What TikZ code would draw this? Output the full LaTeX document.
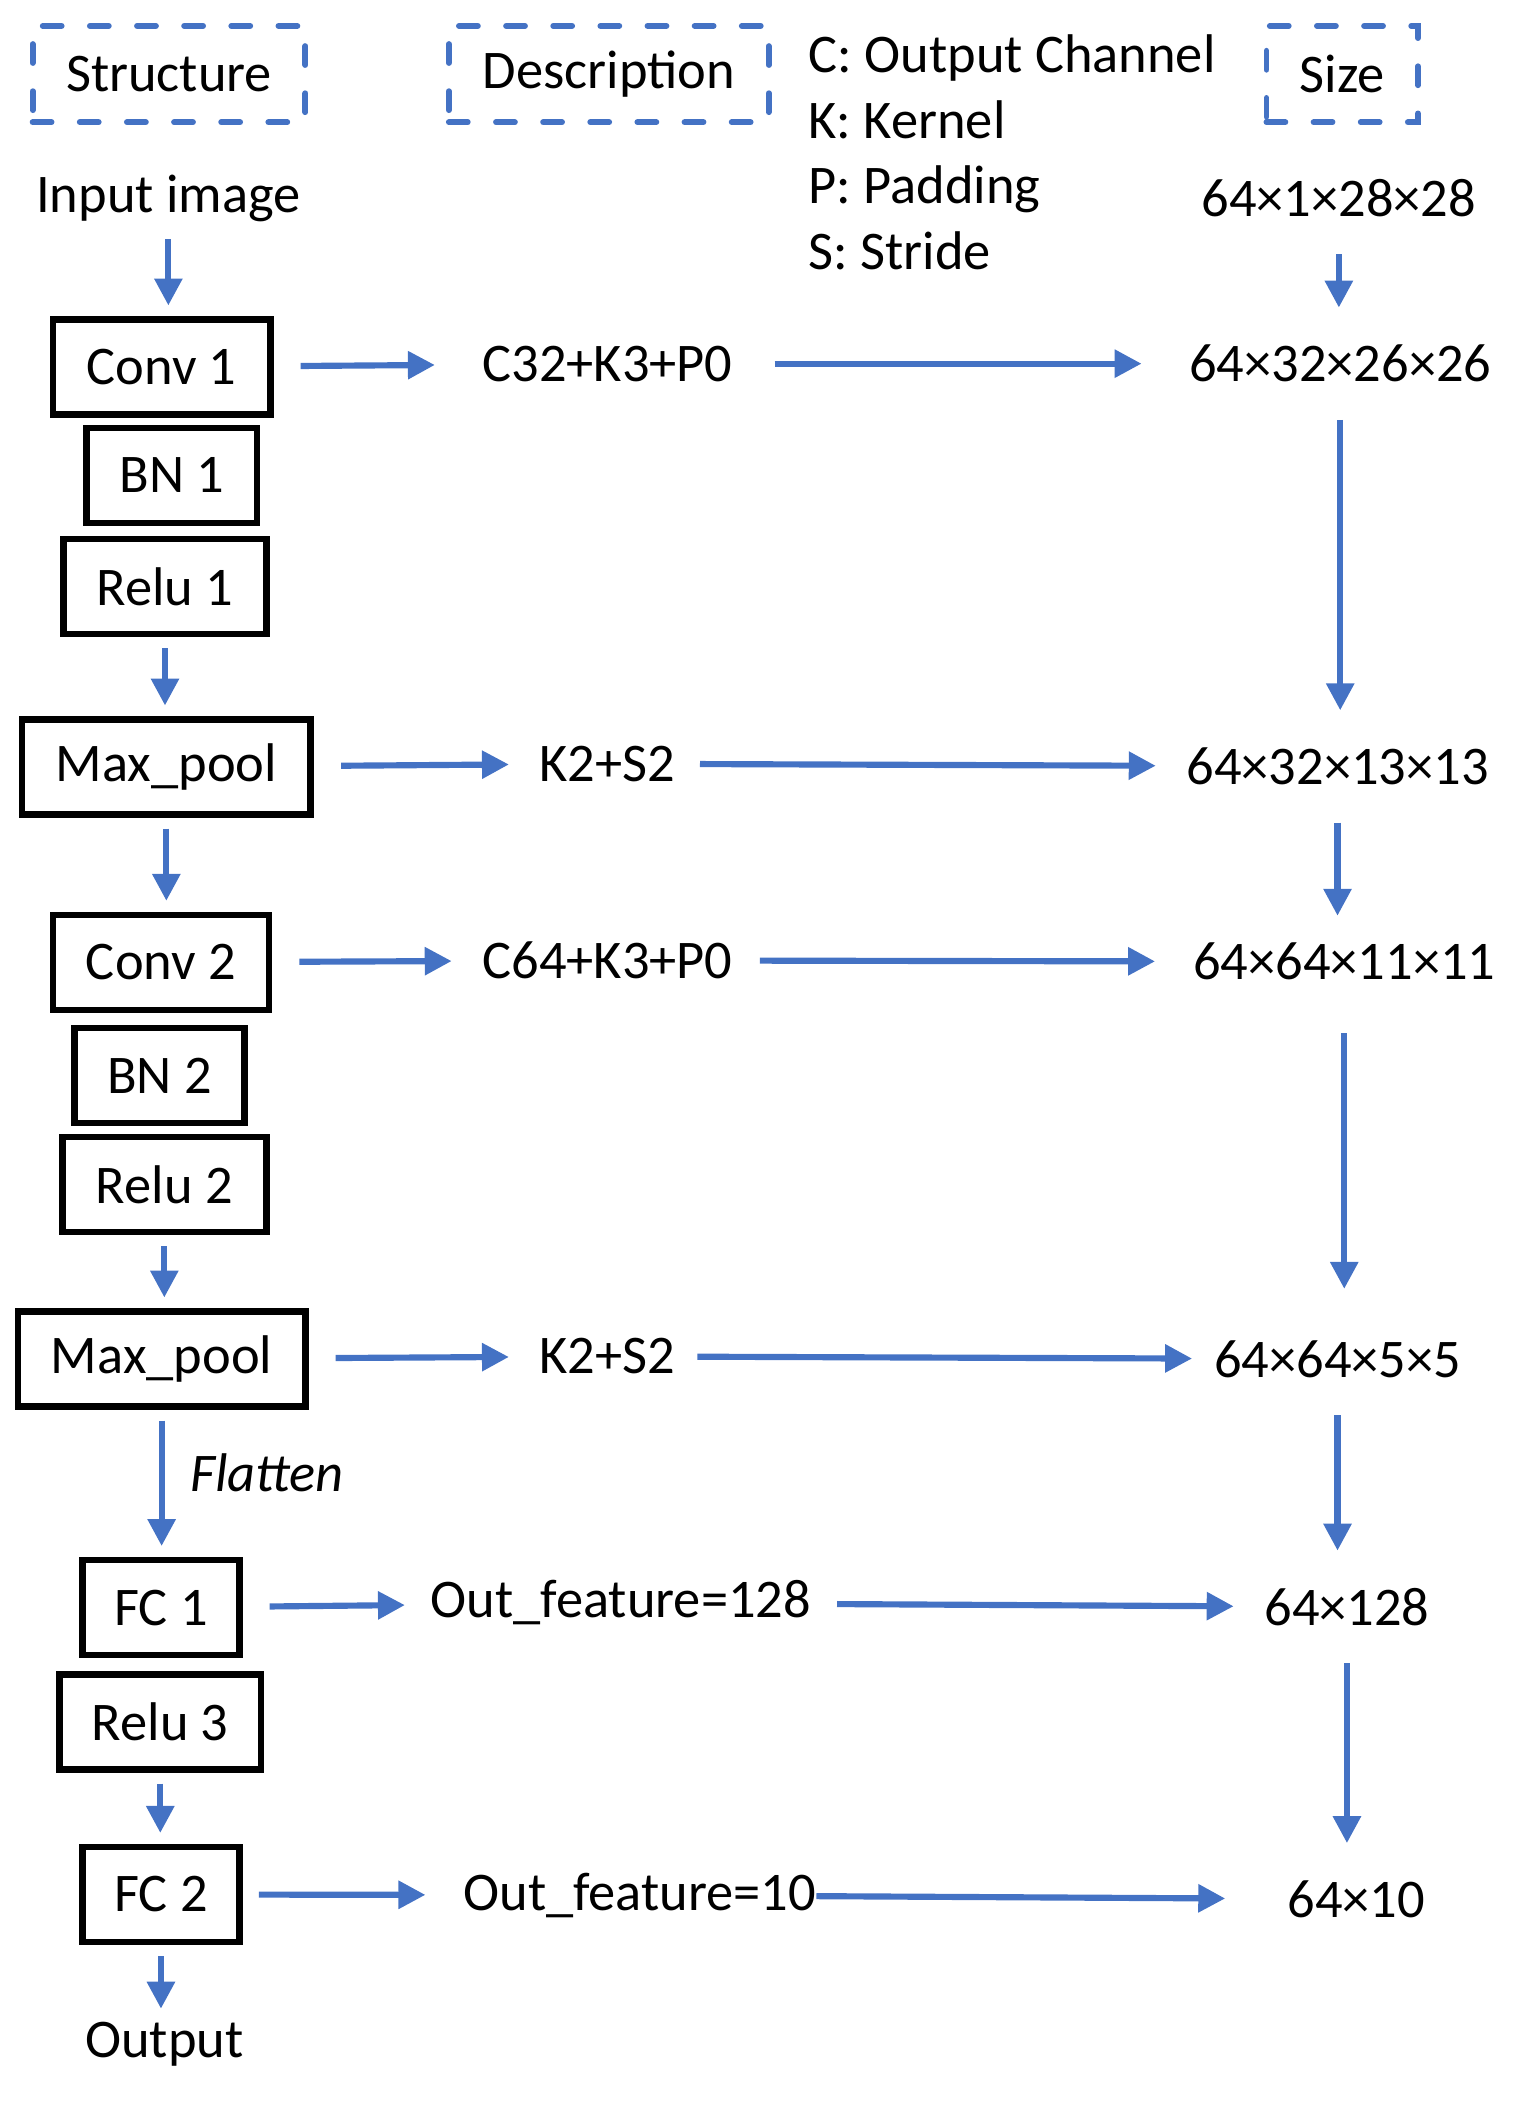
\documentclass[tikz,border=0pt]{standalone}
\usepackage{fontspec}
\setmainfont{Carlito}
\usepackage{tikz}
\usetikzlibrary{positioning, arrows.meta}
\definecolor{OffBlue}{RGB}{68,114,196}

\begin{document}
\begin{tikzpicture}[
      layer/.style={rectangle, draw=black, line width=2.8pt,
                    minimum height=1.41cm, inner sep=0pt,
                    font=\fontsize{23}{28}\selectfont},
      hdr/.style={rectangle, draw=OffBlue, line width=2.5pt, line cap=round,
                  dash pattern=on 0.28cm off 0.42cm,
                  minimum height=1.43cm, font=\fontsize{23}{28}\selectfont},
      lbl/.style={inner sep=0pt, text=black, font=\fontsize{23}{28}\selectfont},
      arr/.style={-{Triangle[length=0.4cm, width=0.4cm]}, OffBlue,
                  line width=2.6pt, shorten <=0.4cm, shorten >=0.45cm},
      varr/.style={arr, shorten <=0.16cm, shorten >=0.16cm},
      sarr/.style={arr, shorten <=0.55cm, shorten >=0.55cm}
    ]
    \useasboundingbox (0,0) rectangle (22.86,-31.36);

    % headers and legend
    \node[hdr, minimum width=4.05cm] (hstruct) at (2.51,-1.10) {Structure};
    \node[hdr, minimum width=4.75cm] (hdesc)   at (9.04,-1.10) {Description};
    \node[hdr, minimum width=2.25cm] (hsize)   at (19.93,-1.10) {Size};
    \node[lbl, anchor=west, align=left, font=\fontsize{23}{27.7}\selectfont]
          (legend) at (12.0,-2.26) {C: Output Channel\\K: Kernel\\P: Padding\\S: Stride};

    % structure column
    \node[lbl] (in) at (2.50,-2.94) {Input image};
    \node[layer, minimum width=3.23cm] (conv1) at (2.40,-5.45)  {Conv 1};
    \node[layer, minimum width=2.53cm] (bn1)   at (2.55,-7.06)  {BN 1};
    \node[layer, minimum width=3.01cm] (relu1) at (2.45,-8.71)  {Relu 1};
    \node[layer, minimum width=4.29cm] (pool1) at (2.47,-11.39) {Max\_pool};
    \node[layer, minimum width=3.21cm] (conv2) at (2.39,-14.29) {Conv 2};
    \node[layer, minimum width=2.53cm] (bn2)   at (2.37,-15.97) {BN 2};
    \node[layer, minimum width=3.03cm] (relu2) at (2.44,-17.59) {Relu 2};
    \node[layer, minimum width=4.27cm] (pool2) at (2.40,-20.18) {Max\_pool};
    \node[layer, minimum width=2.33cm] (fc1)   at (2.39,-23.87) {FC 1};
    \node[layer, minimum width=2.99cm] (relu3) at (2.38,-25.57) {Relu 3};
    \node[layer, minimum width=2.33cm] (fc2)   at (2.39,-28.13) {FC 2};
    \node[lbl] (out) at (2.44,-30.36) {Output};

    % description column
    \node[lbl] (d1) at (9.02,-5.40)  {C32+K3+P0};
    \node[lbl] (d2) at (9.02,-11.34) {K2+S2};
    \node[lbl] (d3) at (9.02,-14.26) {C64+K3+P0};
    \node[lbl] (d4) at (9.02,-20.14) {K2+S2};
    \node[lbl] (d5) at (9.22,-23.80) {Out\_feature=128};
    \node[lbl] (d6) at (9.50,-28.14) {Out\_feature=10};

    % size column
    \node[lbl] (s0) at (19.88,-2.94)  {64×1×28×28};
    \node[lbl] (s1) at (19.90,-5.40)  {64×32×26×26};
    \node[lbl] (s2) at (19.86,-11.38) {64×32×13×13};
    \node[lbl] (s3) at (19.96,-14.28) {64×64×11×11};
    \node[lbl] (s4) at (19.86,-20.18) {64×64×5×5};
    \node[lbl] (s5) at (20.00,-23.86) {64×128};
    \node[lbl] (s6) at (20.14,-28.20) {64×10};

    % structure arrows
    \draw[varr, shorten <=0.26cm] (in) -- (in |- conv1.north);
    \draw[varr] (relu1) -- (relu1 |- pool1.north);
    \draw[varr] (pool1) -- (pool1 |- conv2.north);
    \draw[varr] (relu2) -- (relu2 |- pool2.north);
    \draw[varr] (pool2) -- node[lbl, right, xshift=0.38cm, pos=0.43,
          font=\fontsize{23}{28}\selectfont\itshape] (flat) {Flatten} (pool2 |- fc1.north);
    \draw[varr] (relu3) -- (relu3 |- fc2.north);
    \draw[varr, shorten >=0.2cm] (fc2) -- (fc2 |- out.north);

    % structure -> description
    \draw[arr, shorten >=0.7cm]  (conv1) -- (d1);
    \draw[arr]                   (pool1) -- (d2);
    \draw[arr]                   (conv2) -- (d3);
    \draw[arr]                   (pool2) -- (d4);
    \draw[arr, shorten >=0.38cm] (fc1) -- (d5);
    \draw[arr, shorten <=0.24cm, shorten >=0.56cm] (fc2) -- (d6);

    % description -> size
    \draw[arr, shorten <=0.62cm, shorten >=0.7cm] (d1) -- (s1);
    \draw[arr, shorten <=0.36cm] (d2) -- (s2);
    \draw[arr, shorten >=0.56cm] (d3) -- (s3);
    \draw[arr, shorten <=0.32cm, shorten >=0.32cm] (d4) -- (s4);
    \draw[arr, shorten <=0.38cm] (d5) -- (s5);
    \draw[arr, shorten <=0cm, shorten >=0.92cm] (d6) -- (s6);

    % size arrows
    \draw[sarr] (s0) -- (s0 |- s1.north);
    \draw[sarr] (s1) -- (s1 |- s2.north);
    \draw[sarr, shorten >=0.4cm] (s2) -- (s2 |- s3.north);
    \draw[sarr, shorten <=0.78cm, shorten >=0.76cm] (s3) -- (s3 |- s4.north);
    \draw[sarr] (s4) -- (s4 |- s5.north);
    \draw[sarr] (s5) -- (s5 |- s6.north);
  \end{tikzpicture}
\end{document}
